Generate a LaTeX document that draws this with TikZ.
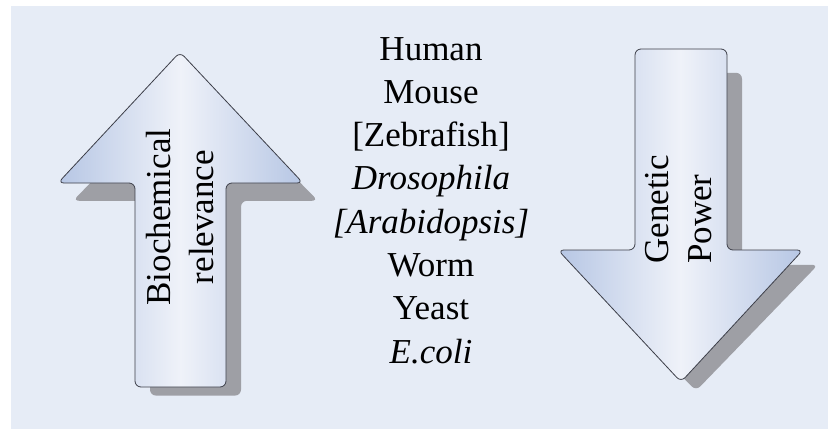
\documentclass[tikz,border=0pt]{standalone}
\usepackage{fontspec}
\setmainfont{LiberationSerif}[Extension=.ttf, UprightFont=*-Regular,
  ItalicFont=*-Italic, BoldFont=*-Bold, BoldItalicFont=*-BoldItalic]
\definecolor{bgblue}{RGB}{230,236,246}
\definecolor{arrowedge}{RGB}{182,198,228}
\definecolor{arrowmid}{RGB}{239,242,249}
\definecolor{shadowgrey}{RGB}{158,159,165}
\definecolor{arrowline}{RGB}{60,62,72}
\tikzset{
  bigarrow/.style   = {draw=arrowline, line width=0.8pt, rounded corners=6pt,
                       left color=arrowedge, right color=arrowedge, middle color=arrowmid},
  arrowshadow/.style= {fill=shadowgrey, rounded corners=6pt,
                       shift={(15,26)}, yscale=0.955},
  uppath/.style     = {insert path={(135,387) -- (135,183) -- (58,183) -- (180,52)
                       -- (303,183) -- (226,183) -- (226,387) -- cycle}},
  downpath/.style   = {insert path={(635,49) -- (727,49) -- (727,250) -- (803,250)
                       -- (681,382) -- (558,250) -- (635,250) -- cycle}},
  species/.style    = {anchor=base, inner sep=0pt, font=\rmfamily\fontsize{35}{43}\selectfont},
  arrowlab/.style   = {rotate=90, inner sep=0pt, font=\rmfamily\fontsize{35}{43}\selectfont},
}
\begin{document}
\begin{tikzpicture}[x=1pt, y=-1pt]
  \useasboundingbox (0,0) rectangle (833,429);
  \fill[bgblue] (11,6) rectangle (828,429);
  % shadows first
  \path[arrowshadow, uppath];
  \path[arrowshadow, downpath];
  \path[bigarrow, uppath];
  \path[bigarrow, downpath];
  \node[arrowlab, align=center] (bio) at (180,217) {Biochemical\\relevance};
  \node[arrowlab, align=left, anchor=west] (gen) at (679,264) {Genetic\\Power};
  \foreach \org [count=\i] in {Human, Mouse, {[Zebrafish]}, \textit{Drosophila},
      \textit{[Arabidopsis]}, Worm, Yeast, \textit{E.coli}}
    \node[species] (org\i) at (431,{60+43.3*(\i-1)}) {\org};
\end{tikzpicture}
\end{document}
